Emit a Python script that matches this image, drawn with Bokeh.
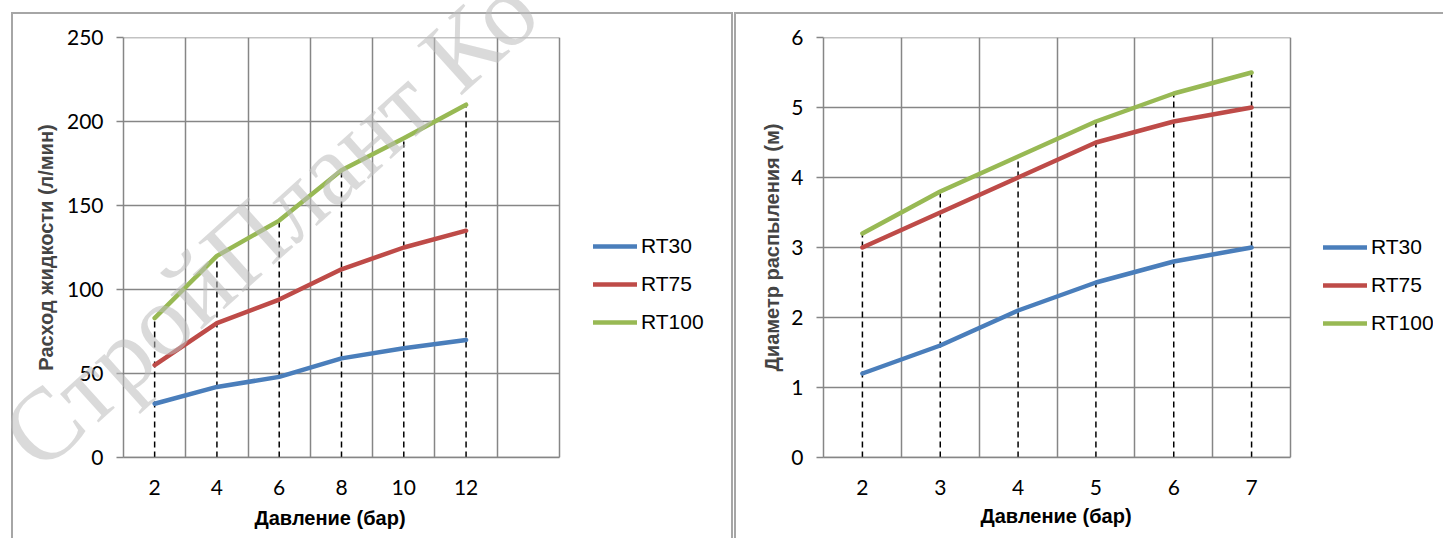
from bokeh.plotting import figure
from bokeh.models import Range1d, FixedTicker, Legend, LegendItem, Div, Title
from bokeh.layouts import row
from bokeh.embed import file_html
from bokeh.resources import INLINE

# ---- data ----
series_names = ["RT30", "RT75", "RT100"]
series_colors = ["#4A7EBB", "#BE4B48", "#98B954"]

flow_pressure = ["2", "4", "6", "8", "10", "12"]
flow_rt30 = [32, 42, 48, 59, 65, 70]
flow_rt75 = [55, 80, 94, 112, 125, 135]
flow_rt100 = [83, 120, 141, 171, 190, 210]
flow_yticks = [0, 50, 100, 150, 200, 250]

diam_pressure = ["2", "3", "4", "5", "6", "7"]
diam_rt30 = [1.2, 1.6, 2.1, 2.5, 2.8, 3.0]
diam_rt75 = [3.0, 3.5, 4.0, 4.5, 4.8, 5.0]
diam_rt100 = [3.2, 3.8, 4.3, 4.8, 5.2, 5.5]
diam_yticks = [0, 1, 2, 3, 4, 5, 6]

x_title = "Давление (бар)"
watermark_text = "СтройПлант Ко"

GRID = "#868686"


def make_chart(cats, n_slots, series, yticks, ylabel, width, height,
               bl, br, bt, bb, plot_px, legend_loc, margin, shadow,
               ytitle_standoff, xtitle_offset, xtitle_standoff):
    idx = list(range(len(cats)))
    frame_px = width - bl - br
    x_end = n_slots - 0.5 + (frame_px - plot_px) * n_slots / plot_px
    p = figure(width=width, height=height, output_backend="svg",
               toolbar_location=None,
               x_range=Range1d(-0.5, x_end),
               y_range=Range1d(yticks[0], yticks[-1]),
               min_border_left=bl, min_border_right=br,
               min_border_top=bt, min_border_bottom=bb,
               margin=margin)
    p.border_fill_color = None
    p.background_fill_color = None
    p.outline_line_color = None
    p.styles = {"box-shadow": shadow}

    # x axis
    p.xaxis.bounds = (-0.5, n_slots - 0.5)
    p.xaxis.ticker = FixedTicker(ticks=idx)
    p.xaxis.major_label_overrides = {i: c for i, c in enumerate(cats)}
    p.xaxis.major_tick_out = 0
    p.xaxis.major_tick_in = 0
    p.xaxis.minor_tick_out = 0
    p.xaxis.minor_tick_in = 0
    p.xaxis.axis_line_color = GRID
    p.xaxis.axis_line_width = 1.5
    p.xaxis.major_label_text_font = "Lato"
    p.xaxis.major_label_text_font_size = "21px"
    p.xaxis.major_label_text_color = "black"
    p.xaxis.major_label_standoff = 22

    # x title, placed under the plot area (not under the legend)
    t = Title(text=x_title, align="left", offset=xtitle_offset,
              vertical_align="bottom",
              text_font="Liberation Sans", text_font_style="bold",
              text_font_size="20px", text_color="black",
              standoff=xtitle_standoff)
    p.add_layout(t, "below")

    # y axis
    p.yaxis.ticker = FixedTicker(ticks=yticks)
    p.yaxis.major_tick_out = 7
    p.yaxis.major_tick_in = 0
    p.yaxis.minor_tick_out = 0
    p.yaxis.minor_tick_in = 0
    p.yaxis.major_tick_line_color = GRID
    p.yaxis.major_tick_line_width = 1.5
    p.yaxis.axis_line_color = GRID
    p.yaxis.axis_line_width = 1.5
    p.yaxis.major_label_text_font = "Lato"
    p.yaxis.major_label_text_font_size = "21px"
    p.yaxis.major_label_text_color = "black"
    p.yaxis.major_label_standoff = 13
    p.yaxis.axis_label = ylabel
    p.yaxis.axis_label_text_font = "Liberation Sans"
    p.yaxis.axis_label_text_font_style = "bold"
    p.yaxis.axis_label_text_font_size = "20px"
    p.yaxis.axis_label_standoff = ytitle_standoff

    # grids: vertical between categories (incl. right border),
    # horizontal limited to the plot area
    p.xgrid.ticker = FixedTicker(ticks=[i + 0.5 for i in range(n_slots)])
    p.xgrid.grid_line_color = GRID
    p.xgrid.grid_line_width = 1.5
    p.ygrid.grid_line_color = None
    k = len(yticks)
    p.segment(x0=[-0.5] * k, y0=yticks, x1=[n_slots - 0.5] * k, y1=yticks,
              line_color=GRID, line_width=1.5)

    # drop lines (from top series to axis)
    top = series[-1]
    p.segment(x0=idx, y0=[yticks[0]] * len(idx), x1=idx, y1=top,
              line_color="black", line_width=1.5, line_dash="6 4")

    items = []
    for name, col, vals in zip(series_names, series_colors, series):
        r = p.line(idx, vals, line_color=col, line_width=4.5,
                   line_cap="round", line_join="round")
        items.append(LegendItem(label=name, renderers=[r]))

    leg = Legend(items=items, location=legend_loc, orientation="vertical",
                 border_line_color=None, background_fill_alpha=0,
                 padding=0, margin=0, spacing=14, glyph_width=44,
                 glyph_height=20, label_height=20, label_standoff=4,
                 label_text_font="Liberation Sans",
                 label_text_font_size="21px", label_text_color="black")
    p.add_layout(leg)
    return p


p1 = make_chart(flow_pressure, 7, [flow_rt30, flow_rt75, flow_rt100],
                flow_yticks, "Расход жидкости (л/мин)",
                722, 526, 112, 12, 25, 80, 436, (470, 123), (12, 0, 0, 11),
                "inset 2px 2px 0 0 #a6a6a6, inset -2px 0 0 0 #a6a6a6",
                7, 131, 14)

p2 = make_chart(diam_pressure, 6, [diam_rt30, diam_rt75, diam_rt100],
                diam_yticks, "Диаметр распыления (м)",
                709, 526, 89, 10, 25, 81, 467, (500, 122), (12, 0, 0, 1),
                "inset 2px 2px 0 0 #a6a6a6",
                5, 157, 10)

# semi-transparent watermark laid over the left chart
wm_html = ("<div style=\"position:absolute; left:-1425px; top:398px; "
           "transform-origin:0 50%; transform:rotate(-42deg); "
           "font-family:'Liberation Serif'; font-size:102px; line-height:1; "
           "white-space:nowrap; color:#bdbdbd; opacity:0.55; "
           "pointer-events:none; z-index:50;\">" + watermark_text + "</div>")
wm = Div(text=wm_html, width=0, height=0, margin=(0, 0, 0, 0),
         styles={"overflow": "visible"})

layout = row(p1, p2, wm)
open("out.html", "w").write(file_html(layout, INLINE))
